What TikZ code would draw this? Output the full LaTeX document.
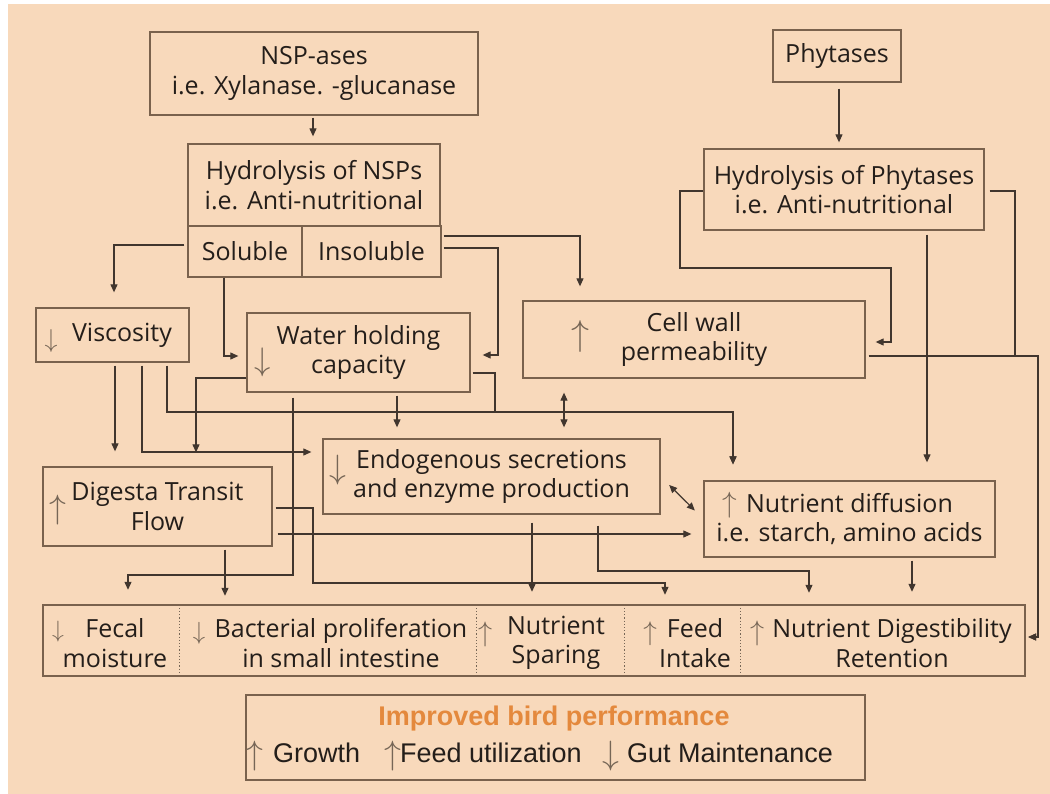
\RequirePackage{fix-cm}
\documentclass[tikz,border=0pt]{standalone}
\usepackage{graphicx}
\usepackage{fontspec}
\setmainfont{Open Sans}
\newfontfamily\arialf{Liberation Sans}
\usetikzlibrary{arrows.meta}
\definecolor{bgc}{HTML}{F8D9BB}
\definecolor{boxc}{HTML}{7A624D}
\definecolor{linec}{HTML}{41362E}
\definecolor{txtc}{HTML}{241E1A}
\definecolor{arrc}{HTML}{766656}
\definecolor{orangec}{HTML}{E4893D}
\newcommand{\mainfs}{\fontsize{25}{29.5}\selectfont}
\newcommand{\upar}[1]{\resizebox*{!}{#1pt}{$\uparrow$}}
\newcommand{\dnar}[1]{\resizebox*{!}{#1pt}{$\downarrow$}}
\begin{document}
\begin{tikzpicture}[x=1pt,y=-1pt,
  box/.style={draw=boxc, line width=1.3pt, inner sep=0pt, align=center, text=txtc, font=\mainfs},
  txt/.style={inner sep=0pt, align=center, text=txtc, font=\mainfs},
  sec/.style={inner sep=0pt, minimum height=71pt},
  sym/.style={inner sep=0pt, text=arrc},
  conn/.style={draw=linec, line width=1.1pt, -{Triangle[length=8pt,width=7pt]}},
  dconn/.style={draw=linec, line width=1.1pt, {Triangle[length=8pt,width=7pt]}-{Triangle[length=8pt,width=7pt]}},
  divider/.style={draw=arrc, line width=1.2pt, dotted},
  perffont/.style={font=\arialf\fontsize{27}{30}\selectfont, text=txtc, inner sep=0pt}
]
\useasboundingbox (0,0) rectangle (1050,794);
\fill[white] (0,0) rectangle (1050,794);
\fill[bgc] (8,4) rectangle (1050,794);

% top boxes
\node[box, minimum width=328pt, minimum height=83pt] (nsp) at (314,73.5) {NSP-ases\\i.e. Xylanase. -glucanase};
\node[box, minimum width=252pt, minimum height=82pt] (hnsp) at (314,185) {Hydrolysis of NSPs\\i.e. Anti-nutritional};
\node[box, minimum width=114pt, minimum height=51pt] (sol) at (245,251.5) {Soluble};
\node[box, minimum width=139pt, minimum height=51pt] (insol) at (371.5,251.5) {Insoluble};
\node[box, minimum width=128pt, minimum height=52pt] (phy) at (837,56) {Phytases};
\node[box, minimum width=280pt, minimum height=81pt] (hphy) at (844,189.5) {Hydrolysis of Phytases\\i.e. Anti-nutritional};

% middle boxes
\node[box, minimum width=153pt, minimum height=54pt] (visc) at (112.5,335) {};
\node[txt] (vt) at (122,335) {Viscosity};
\node[sym] (va) at (51,341) {\dnar{23}};

\node[box, minimum width=223pt, minimum height=79pt] (water) at (358.5,352.5) {Water holding\\capacity};
\node[sym] (wa) at (263,362) {\dnar{29}};

\node[box, minimum width=342pt, minimum height=77pt] (cell) at (694,339.5) {Cell wall\\permeability};
\node[sym] (ca) at (580,336) {\upar{32}};

\node[box, minimum width=337pt, minimum height=75pt] (endo) at (491.5,476.5) {Endogenous secretions\\and enzyme production};
\node[sym] (ea) at (338,470) {\dnar{30}};

\node[box, minimum width=229pt, minimum height=79pt] (digesta) at (157.5,506.5) {Digesta Transit\\Flow};
\node[sym] (da) at (58,510) {\upar{30}};

\node[box, minimum width=291pt, minimum height=76pt] (ndiff) at (849.5,519) {Nutrient diffusion\\i.e. starch, amino acids};
\node[sym] (na) at (730,505) {\upar{26}};

% bottom outcome box
\node[box, minimum width=982pt, minimum height=71pt] (bottom) at (534,640.5) {};
\node[sec, minimum width=136pt] (s1) at (111,640.5) {};
\node[sec, minimum width=297pt] (s2) at (327.5,640.5) {};
\node[sec, minimum width=148pt] (s3) at (550,640.5) {};
\node[sec, minimum width=116pt] (s4) at (682,640.5) {};
\node[sec, minimum width=285pt] (s5) at (882.5,640.5) {};
\draw[divider] ([yshift=-3pt]s1.north east) -- ([yshift=3pt]s1.south east);
\draw[divider] ([yshift=-3pt]s2.north east) -- ([yshift=3pt]s2.south east);
\draw[divider] ([yshift=-3pt]s3.north east) -- ([yshift=3pt]s3.south east);
\draw[divider] ([yshift=-3pt]s4.north east) -- ([yshift=3pt]s4.south east);

\node[txt] (t1) at (115,643) {Fecal\\moisture};
\node[sym] (a1) at (58,632) {\dnar{21}};
\node[txt] (t2) at (341,643) {Bacterial proliferation\\in small intestine};
\node[sym] (a2) at (199,633) {\dnar{22}};
\node[txt] (t3) at (556,643) {Nutrient\\Sparing};
\node[sym] (a3) at (486,634) {\upar{25}};
\node[txt] (t4) at (695,643) {Feed\\Intake};
\node[sym] (a4) at (650,634) {\upar{24}};
\node[txt] (t5) at (892,643) {Nutrient Digestibility\\Retention};
\node[sym] (a5) at (758,633) {\upar{25}};

% performance box
\node[box, minimum width=619pt, minimum height=85pt] (perf) at (555.5,737.5) {};
\node[inner sep=0pt, anchor=base, text=orangec, font=\arialf\bfseries\fontsize{27}{30}\selectfont] (ptitle) at (554,725) {Improved bird performance};
\node[sym] (pa1) at (255,756) {\upar{30}};
\node[perffont, anchor=base west] (pg) at (273,762) {Growth};
\node[sym] (pa2) at (393,756) {\upar{30}};
\node[perffont, anchor=base west] (pf) at (400,762) {Feed utilization};
\node[sym] (pa3) at (611,756) {\dnar{30}};
\node[perffont, anchor=base west] (pm) at (627,762) {Gut Maintenance};

% connectors
\draw[conn, shorten <=2pt, shorten >=7pt] (nsp.south -| 313,0) -- (hnsp.north -| 313,0);
\draw[conn, shorten <=3pt, shorten >=15pt] (sol.west |- 0,245) -| (visc.north -| 114,0);
\draw[conn, shorten >=8pt] (sol.south -| 224,0) |- (water.west |- 0,356);
\draw[conn, shorten <=2pt, shorten >=12pt] (insol.east |- 0,248) -- (498,248) -- (498,355) -- (water.east |- 0,355);
\draw[conn, shorten <=2pt, shorten >=14pt] (insol.east |- 0,236) -| (cell.north -| 580,0);
\draw[conn, shorten <=6pt, shorten >=6pt] (phy.south -| 839,0) -- (hphy.north -| 839,0);
\draw[conn, shorten >=10pt] (hphy.west |- 0,191) -- (680,191) -- (680,268) -- (891,268) -- (891,342) -- (cell.east |- 0,342);
\draw[conn, shorten <=4pt, shorten >=18pt] (hphy.south -| 927,0) -- (ndiff.north -| 927,0);
\draw[conn, shorten <=5pt, shorten >=3pt] (hphy.east |- 0,191) -- (1015,191) -- (1015,356) -- (1038,356) -- (1038,637) -- (s5.east |- 0,637);
\draw[conn, shorten <=3pt, shorten >=3pt] (cell.east |- 0,356) -- (1038,356) -- (1038,637) -- (s5.east |- 0,637);
\draw[conn, shorten <=3pt, shorten >=15pt] (visc.south -| 115,0) -- (digesta.north -| 115,0);
\draw[conn, shorten <=3pt, shorten >=11pt] (visc.south -| 142,0) |- (endo.west |- 0,452);
\draw[conn, shorten <=3pt, shorten >=16pt] (visc.south -| 167,0) -- (167,412) -- (733,412) -- (ndiff.north -| 733,0);
\draw[conn, shorten <=2pt, shorten >=16pt] (water.east |- 0,373) -- (495,373) -- (495,412) -- (733,412) -- (ndiff.north -| 733,0);
\draw[conn, shorten >=14pt] (water.west |- 0,378) -- (196,378) -- (digesta.north -| 196,0);
\draw[conn, shorten <=5pt, shorten >=15pt] (water.south -| 293,0) -- (293,575) -- (128,575) -- (s1.north -| 128,0);
\draw[conn, shorten <=3pt, shorten >=11pt] (water.south -| 397,0) -- (endo.north -| 397,0);
\draw[conn, shorten <=3pt, shorten >=9pt] (digesta.south -| 225,0) -- (s2.north -| 225,0);
\draw[conn, shorten <=3pt, shorten >=10pt] (digesta.east |- 0,508) -- (313,508) -- (313,583) -- (665,583) -- (s4.north -| 665,0);
\draw[conn, shorten <=5pt, shorten >=12pt] (digesta.east |- 0,534) -- (ndiff.west |- 0,534);
\draw[conn, shorten <=8pt, shorten >=13pt] (endo.south -| 532,0) -- (s3.north -| 532,0);
\draw[conn, shorten <=11pt, shorten >=12pt] (endo.south -| 598,0) -- (598,571) -- (809,571) -- (s5.north -| 809,0);
\draw[conn, shorten <=3pt, shorten >=13pt] (ndiff.south -| 912,0) -- (s5.north -| 912,0);
\draw[dconn, shorten <=12pt, shorten >=12pt] (endo.east) -- (ndiff.west);
\draw[dconn, shorten <=14pt, shorten >=11pt] (cell.south -| 564,0) -- (endo.north -| 564,0);
\end{tikzpicture}
\end{document}
